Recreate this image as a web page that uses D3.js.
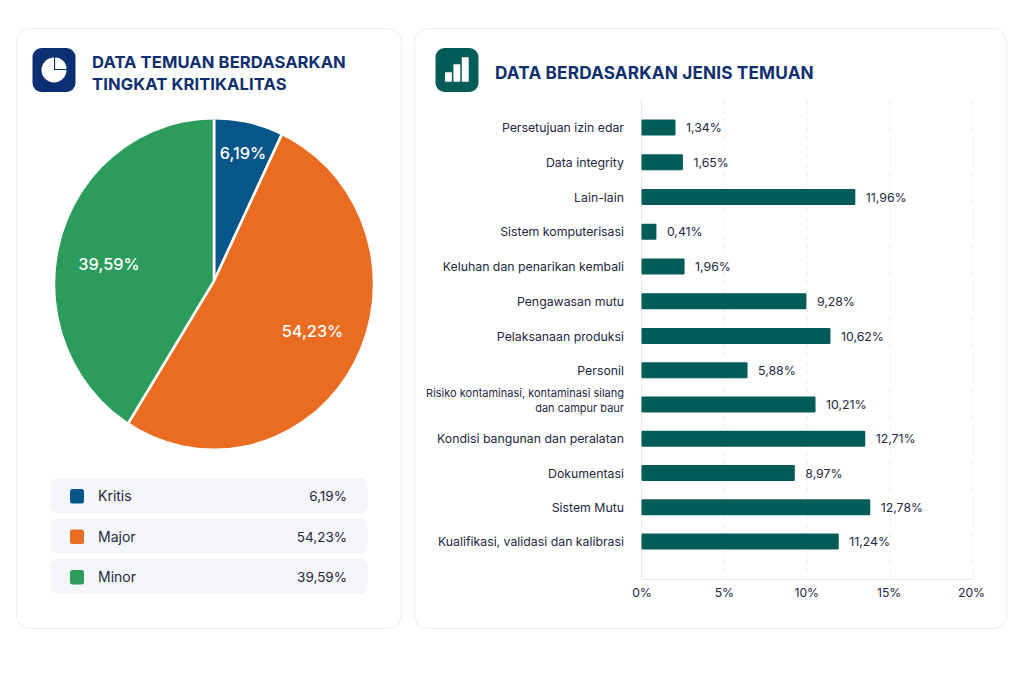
<!DOCTYPE html>
<html><head><meta charset="utf-8">
<script src="https://cdn.jsdelivr.net/npm/d3@7"></script>
<style>html,body{margin:0;padding:0;background:#fff}svg{display:block;font-family:Inter,sans-serif}</style>
</head><body><svg id="c" width="1024" height="683"></svg>
<script>
const severityNames = ["Kritis","Major","Minor"];
const severityLabels = ["6,19%","54,23%","39,59%"];
const severityDrawn = [6.9,51.74,41.36];
const severityColors = ["#07568a","#ea6c20","#2b9c5c"];
const findingNames = ["Persetujuan izin edar","Data integrity","Lain-lain","Sistem komputerisasi","Keluhan dan penarikan kembali","Pengawasan mutu","Pelaksanaan produksi","Personil","Risiko kontaminasi, kontaminasi silang|dan campur baur","Kondisi bangunan dan peralatan","Dokumentasi","Sistem Mutu","Kualifikasi, validasi dan kalibrasi"];
const findingLabels = ["1,34%","1,65%","11,96%","0,41%","1,96%","9,28%","10,62%","5,88%","10,21%","12,71%","8,97%","12,78%","11,24%"];
const findingDrawn = [2.05,2.5,12.9,0.9,2.6,9.95,11.4,6.4,10.5,13.5,9.25,13.8,11.9];
const xTicks = [0,5,10,15,20];
const navy="#0f2f6f", teal="#045c58", ink="#23283f";
const svg=d3.select("#c");
const card=(x,y,w,h)=>svg.append("rect").attr("x",x).attr("y",y).attr("width",w).attr("height",h).attr("rx",14).attr("fill","#fff").attr("stroke","#eef0f5").attr("stroke-width",1.2);
card(16.5,28.5,385,600); card(414.5,28.5,592,600);

// header left
svg.append("rect").attr("x",32.5).attr("y",48).attr("width",43).attr("height",44).attr("rx",9).attr("fill","#0c2f74");
const ic=svg.append("g").attr("transform","translate(54,70)");
ic.append("path").attr("d",d3.arc()({innerRadius:0,outerRadius:12.5,startAngle:Math.PI/2,endAngle:2*Math.PI})).attr("fill","#fff");
ic.append("path").attr("d",d3.arc()({innerRadius:0,outerRadius:11.4,startAngle:0,endAngle:Math.PI/2})).attr("fill","#fff").attr("transform","translate(1.1,-1.1)");
[["DATA TEMUAN BERDASARKAN",68],["TINGKAT KRITIKALITAS",90]].forEach(d=>svg.append("text").attr("x",92).attr("y",d[1]).attr("font-size",16.6).attr("letter-spacing",.09).attr("font-weight",700).attr("fill",navy).text(d[0]));

// pie: wedges drawn about the hub, outline clipped to the slightly tall disc
svg.append("defs").append("clipPath").attr("id","disc").append("ellipse").attr("cx",214).attr("cy",284).attr("rx",158.8).attr("ry",164.6);
const pieG=svg.append("g").attr("clip-path","url(#disc)").append("g").attr("transform","translate(214,281)");
const arcs=d3.pie().sort(null)(severityDrawn);
const arc=d3.arc().innerRadius(0).outerRadius(215);
pieG.selectAll("path").data(arcs).join("path").attr("d",arc).attr("fill",(d,i)=>severityColors[i]).attr("stroke","#fff").attr("stroke-width",2.6);
const labelPos=[[243,153],[312.5,331],[109,264]];
severityLabels.forEach((t,i)=>svg.append("text").attr("x",labelPos[i][0]).attr("y",labelPos[i][1]+6).attr("text-anchor","middle").attr("font-size",16.3).attr("font-weight",500).attr("fill","#fff").text(t));

// legend rows
const rowY=d3.scalePoint().domain(severityNames).range([496,577]);
severityNames.forEach((n,i)=>{
 const y=rowY(n);
 svg.append("rect").attr("x",50.5).attr("y",y-18).attr("width",317).attr("height",35).attr("rx",7).attr("fill","#f5f6f9");
 svg.append("rect").attr("x",70).attr("y",y-7).attr("width",14).attr("height",14.5).attr("rx",2.5).attr("fill",severityColors[i]);
 svg.append("text").attr("x",98).attr("y",y+5).attr("font-size",14).attr("fill",ink).text(n);
 svg.append("text").attr("x",347).attr("y",y+5).attr("text-anchor","end").attr("font-size",13.5).attr("fill",ink).text(severityLabels[i]);
});

// header right
svg.append("rect").attr("x",435.5).attr("y",48).attr("width",43).attr("height",44).attr("rx",9).attr("fill",teal);
[[445,72.3],[453.4,64.3],[461.8,57.3]].forEach(b=>svg.append("rect").attr("x",b[0]).attr("y",b[1]).attr("width",6.9).attr("height",81.7-b[1]).attr("fill","#fff").attr("rx",.6));
svg.append("text").attr("x",495).attr("y",78.5).attr("font-size",17.2).attr("font-weight",700).attr("letter-spacing",.15).attr("fill",navy).text("DATA BERDASARKAN JENIS TEMUAN");

// bars
const x=d3.scaleLinear().domain([0,20]).range([641.5,973]);
const yc=d3.scaleLinear().domain([0,6,12]).range([127.5,336,541.5]);
const axisY=579;
svg.append("g").selectAll("line").data(xTicks).join("line").attr("x1",d=>x(d)).attr("x2",d=>x(d)).attr("y1",100).attr("y2",axisY).attr("stroke",d=>d==0?"#e6e9f1":"#eceef3").attr("stroke-dasharray",d=>d==0?null:"5 4");
const ax=svg.append("g").attr("transform",`translate(0,${axisY})`).call(d3.axisBottom(x).tickValues(xTicks).tickSize(0).tickPadding(9).tickFormat(d=>d+"%"));
ax.select(".domain").attr("stroke","#e6e9f1");
ax.selectAll("text").attr("font-size",12.2).attr("font-family","Inter,sans-serif").attr("fill",ink).attr("dx",d=>d*-0.1);
svg.selectAll(".bar").data(findingNames).join("rect").attr("class","bar").attr("x",x(0)).attr("y",(d,i)=>yc(i)-8).attr("width",(d,i)=>x(findingDrawn[i])-x(0)).attr("height",16).attr("rx",1.2).attr("fill",teal);
findingNames.forEach((n,i)=>{
 const parts=n.split("|"), c=yc(i);
 if(parts.length>1){parts.forEach((p,j)=>svg.append("text").attr("x",624).attr("y",c-8+j*15).attr("text-anchor","end").attr("font-size",11).attr("fill",ink).text(p));}
 else svg.append("text").attr("x",624).attr("y",c+4.5).attr("text-anchor","end").attr("font-size",12.3).attr("fill",ink).text(n);
 svg.append("text").attr("x",x(findingDrawn[i])+10.5).attr("y",c+4.5).attr("font-size",12.3).attr("fill",ink).text(findingLabels[i]);
});
</script></body></html>
